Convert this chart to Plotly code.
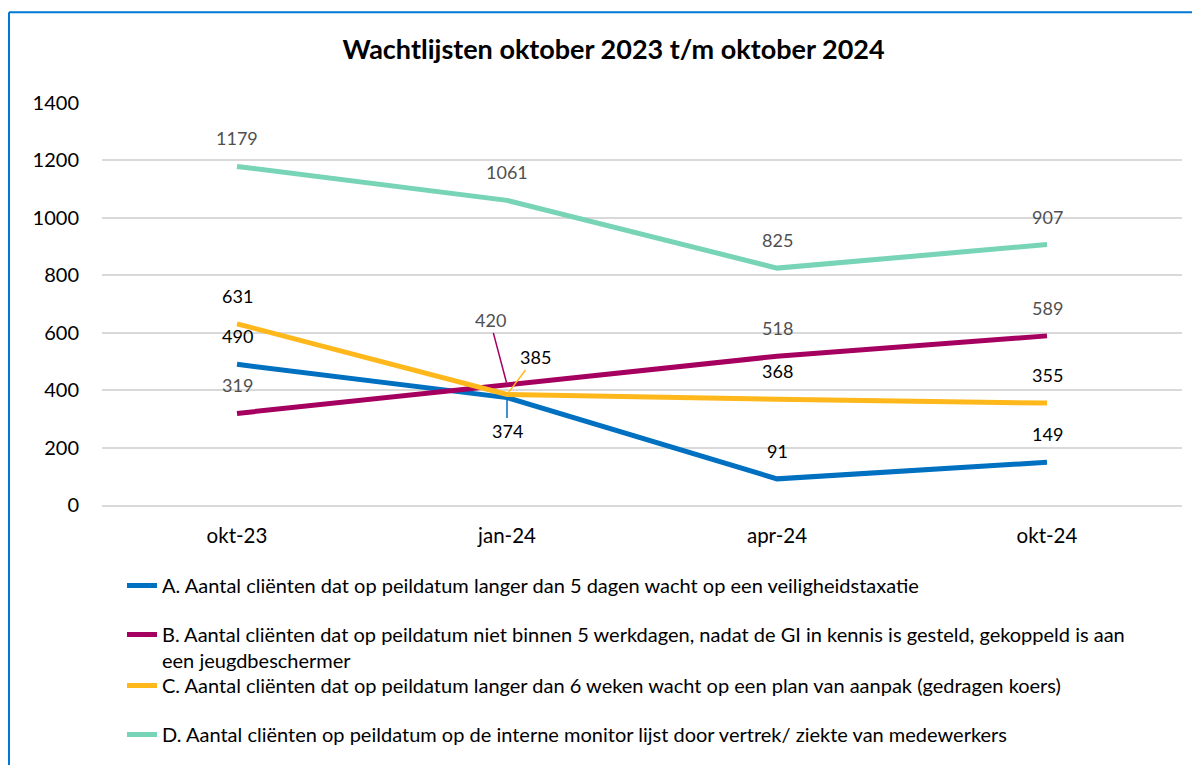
import plotly.graph_objects as go

categories = ["okt-23", "jan-24", "apr-24", "okt-24"]
series_names = [
    "A. Aantal cliënten dat op peildatum langer dan 5 dagen wacht op een veiligheidstaxatie",
    "B. Aantal cliënten dat op peildatum niet binnen 5 werkdagen, nadat de GI in kennis is gesteld, gekoppeld is aan<br>een jeugdbeschermer",
    "C. Aantal cliënten dat op peildatum langer dan 6 weken wacht op een plan van aanpak (gedragen koers)",
    "D. Aantal cliënten op peildatum op de interne monitor lijst door vertrek/ ziekte van medewerkers",
]
values_a = [490, 374, 91, 149]
values_b = [319, 420, 518, 589]
values_c = [631, 385, 368, 355]
values_d = [1179, 1061, 825, 907]
y_ticks = [0, 200, 400, 600, 800, 1000, 1200, 1400]

colors = ["#0070C0", "#A5005F", "#FFB81C", "#78D4B6"]
label_colors = ["#000000", "#505050", "#000000", "#505050"]
all_values = [values_a, values_b, values_c, values_d]
legend_ids = ["legend", "legend", "legend2", "legend2"]

FONT = "Lato"
fig = go.Figure()
for i, (name, vals) in enumerate(zip(series_names, all_values)):
    fig.add_trace(go.Scatter(
        x=categories, y=vals, name=name, mode="lines",
        line=dict(color=colors[i], width=5),
        legendgroup=f"g{i}", legend=legend_ids[i], hoverinfo="skip",
    ))

annotations = []
# leader-line labels at jan-24: (series index, point index) -> (ax, ay)
special = {(1, 1): (-17, -64), (2, 1): (28, -37), (0, 1): (0, 33)}
for i, vals in enumerate(all_values):
    for j, v in enumerate(vals):
        if (i, j) in special:
            ax, ay = special[(i, j)]
            annotations.append(dict(
                x=categories[j], y=v, xref="x", yref="y", text=str(v),
                showarrow=True, arrowhead=0, arrowwidth=1.5, arrowcolor=colors[i],
                ax=ax, ay=ay, standoff=2,
                font=dict(family=FONT, size=18, color=label_colors[i]),
            ))
        else:
            annotations.append(dict(
                x=categories[j], y=v, xref="x", yref="y", text=str(v),
                showarrow=False, yshift=28,
                font=dict(family=FONT, size=18, color=label_colors[i]),
            ))

legend_common = dict(orientation="v", xanchor="left", yanchor="top",
                     font=dict(family=FONT, size=20, color="#000000"),
                     tracegroupgap=20, valign="top", traceorder="grouped",
                     bgcolor="rgba(0,0,0,0)")

fig.update_layout(
    width=1192, height=757,
    margin=dict(l=94, r=18, t=95, b=259),
    paper_bgcolor="white", plot_bgcolor="white",
    font=dict(family=FONT, size=18, color="#000000"),
    title=dict(text="<b>Wachtlijsten oktober 2023 t/m oktober 2024</b>",
               x=0.508, xanchor="center", y=1 - 42 / 757, yanchor="middle",
               font=dict(family=FONT, size=27, color="#000000")),
    xaxis=dict(type="category", range=[-0.5, 3.5], showgrid=False,
               showline=True, linecolor="#D9D9D9", linewidth=1.5,
               tickfont=dict(family=FONT, size=20.5, color="#000000"),
               ticks="", ticklabelstandoff=12),
    yaxis=dict(range=[0, 1400], tickvals=y_ticks, showgrid=True,
               gridcolor="#D9D9D9", gridwidth=1.5, zeroline=False,
               showline=False, ticks="", ticklabelstandoff=22,
               tickfont=dict(family=FONT, size=20, color="#000000")),
    legend=dict(legend_common, x=(122 - 102) / 1080, y=-(566 - 506) / 403),
    legend2=dict(legend_common, x=(122 - 102) / 1080, y=-(666 - 506) / 403),
    showlegend=True,
    annotations=annotations,
    shapes=[
        dict(type="line", xref="paper", yref="paper",
             x0=(9 - 102) / 1080, x1=(9 - 102) / 1080,
             y0=(506 - 12) / 403, y1=(506 - 770) / 403,
             line=dict(color="#0078D4", width=2)),
        dict(type="line", xref="paper", yref="paper",
             x0=(9 - 102) / 1080, x1=(1205 - 102) / 1080,
             y0=(506 - 12) / 403, y1=(506 - 12) / 403,
             line=dict(color="#0078D4", width=2)),
    ],
)

fig.write_html("out.html")
